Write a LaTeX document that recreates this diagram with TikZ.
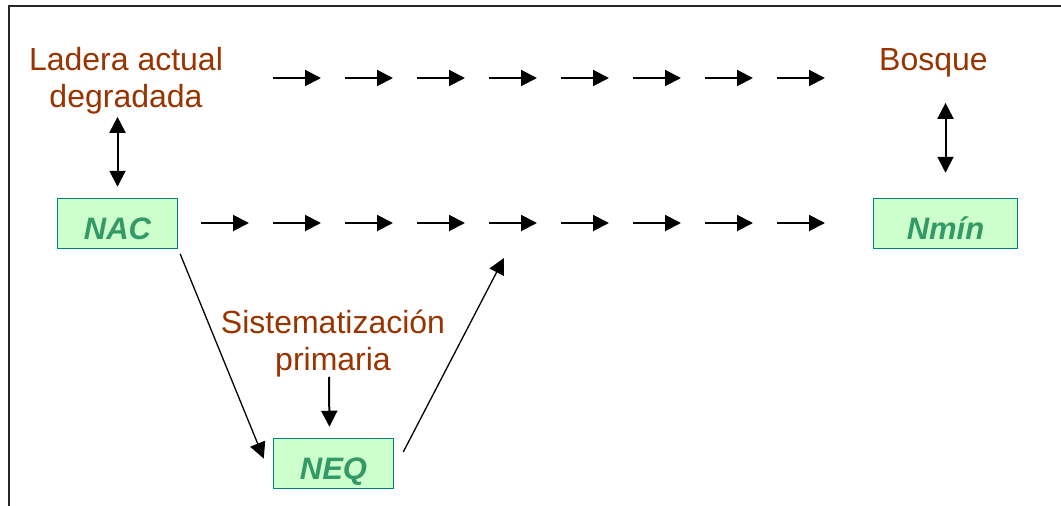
\documentclass[tikz,border=0pt]{standalone}
\usepackage{fontspec}
\setmainfont{Liberation Sans}
\usetikzlibrary{arrows.meta, positioning}
\definecolor{brown1}{RGB}{153,51,0}
\definecolor{green1}{RGB}{51,153,102}
\definecolor{teal1}{RGB}{0,128,128}
\definecolor{mint1}{RGB}{204,255,204}

\begin{document}
\begin{tikzpicture}[x=1pt, y=-1pt,
    phase/.style={text=brown1, font=\fontsize{32}{37}\selectfont, align=center, inner sep=0pt, anchor=base},
    nbox/.style={draw=teal1, fill=mint1, line width=1.5pt, text=green1, font=\fontsize{31}{37}\selectfont\bfseries\itshape, minimum width=120pt, minimum height=50pt, text height=31pt, text depth=0pt, inner sep=0pt},
    steparrow/.style={-{Triangle[length=16pt, width=16pt]}, line width=2pt},
    twoway/.style={{Triangle[length=16pt, width=16pt]}-{Triangle[length=16pt, width=16pt]}, line width=2pt},
    frame/.style={draw=black!85, line width=2pt}
]
        \useasboundingbox (0,0) rectangle (1061,506);
        \draw[frame] (9,506) -- (9,6) -- (1061,6);

        \node[phase, name=ladera] at(126,107) {Ladera actual\\degradada};
        \node[phase, name=bosque] at(933.5,70) {Bosque};
        \node[phase, name=sist] at(333,370) {Sistematización\\primaria};

        \node[nbox, name=NAC] at(117.5,223.5) {NAC};
        \node[nbox, name=Nmin, minimum width=144pt] at(945.5,223.5) {Nmín};
        \node[nbox, name=NEQ] at(333.5,463.5) {NEQ};
        \coordinate (join) at (504,258);

        % rows of steps
        \foreach \i in {0,...,7}{
            \coordinate (top\i) at ({273+72*\i},78);
            \draw[steparrow] (top\i) -- ++(48,0);
        }
        \foreach \i in {0,...,8}{
            \coordinate (mid\i) at ({201+72*\i},223);
            \draw[steparrow] (mid\i) -- ++(48,0);
        }

        \draw[twoway, shorten <=3pt, shorten >=11pt] (ladera.south -| NAC.north) -- (NAC.north);
        \draw[twoway, shorten <=26pt, shorten >=25pt] (bosque.south -| Nmin.north) -- (Nmin.north);
        \draw[steparrow, shorten >=11pt] ([xshift=-4pt]sist.south) -- ([xshift=-4pt]NEQ.north);

        \draw[steparrow, line width=1.3pt, shorten <=5pt] (NAC.south east) -- ([xshift=-9pt,yshift=5pt]NEQ.west);
        \draw[steparrow, line width=1.3pt] ([xshift=9pt,yshift=11.5pt]NEQ.east) -- (join);
\end{tikzpicture}
\end{document}
